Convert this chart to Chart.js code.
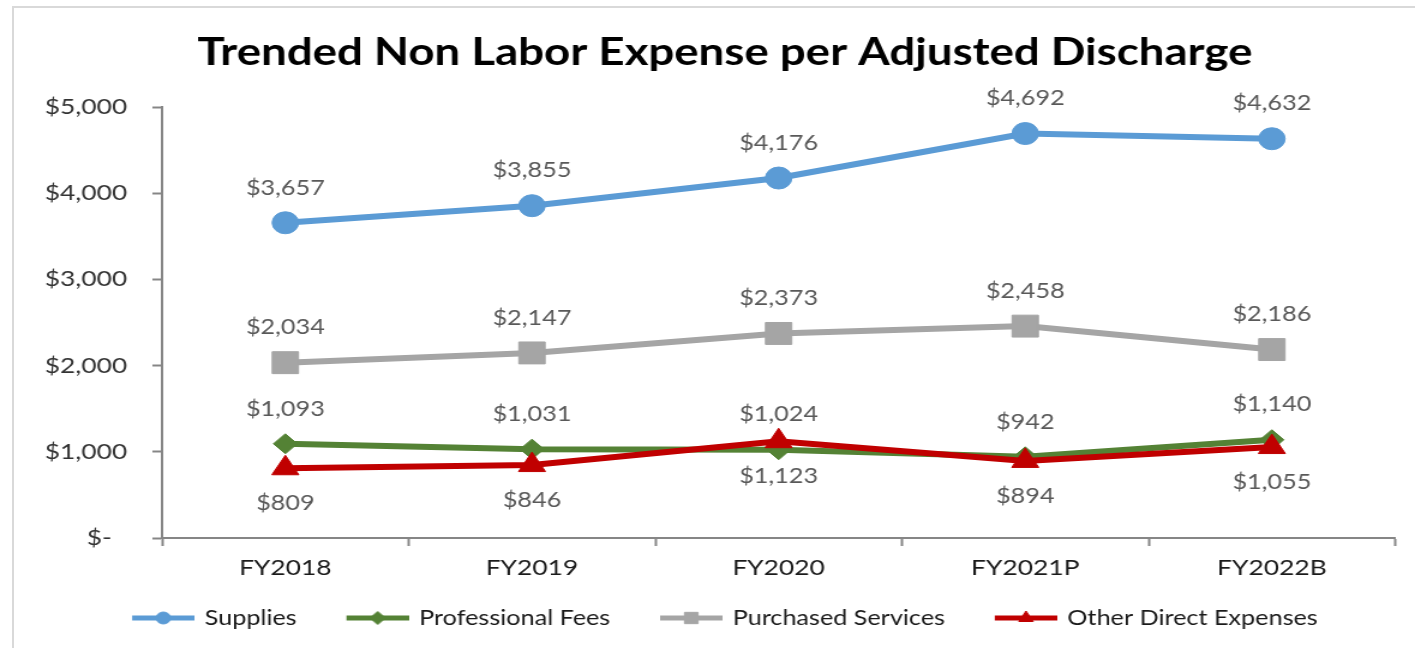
<!DOCTYPE html>
<html>
<head>
<meta charset="utf-8">
<title>Trended Non Labor Expense per Adjusted Discharge</title>
<script src="https://cdn.jsdelivr.net/npm/chart.js@4.4.0/dist/chart.umd.min.js"></script>
<style>
  html, body { margin: 0; padding: 0; background: #fff; overflow: hidden; }
  #frame {
    position: absolute; left: 12px; top: 6px;
    width: 1440px; height: 700px;
    border: 2px solid #d9d9d9;
  }
  #chart { position: absolute; left: 0; top: 0; }
</style>
</head>
<body>
<div id="frame"></div>
<!-- drawn at 1179 wide and stretched to 1415, the source picture is stretched the same way -->
<canvas id="chart" width="1179" height="648" style="width:1415px;height:648px"></canvas>
<script>
// chart data
const categories = ["FY2018", "FY2019", "FY2020", "FY2021P", "FY2022B"];
const supplies = [3657, 3855, 4176, 4692, 4632];
const professionalFees = [1093, 1031, 1024, 942, 1140];
const purchasedServices = [2034, 2147, 2373, 2458, 2186];
const otherDirectExpenses = [809, 846, 1123, 894, 1055];
const yTickLabels = ["$-", "$1,000", "$2,000", "$3,000", "$4,000", "$5,000"];

const FONT = "Lato";

function money(v) {
  return "$" + v.toLocaleString("en-US");
}

// small line + marker sample for the legend, like Excel draws it
// (left part of the canvas is left blank, it gives the gap between items)
function legendSwatch(color, pointStyle, radius) {
  const c = document.createElement("canvas");
  c.width = 72;
  c.height = 16;
  const ctx = c.getContext("2d");
  ctx.strokeStyle = color;
  ctx.lineWidth = 5;
  ctx.beginPath();
  ctx.moveTo(20, 8);
  ctx.lineTo(72, 8);
  ctx.stroke();
  ctx.fillStyle = color;
  ctx.lineWidth = 1;
  Chart.helpers.drawPoint(ctx, { pointStyle: pointStyle, radius: radius, rotation: 0, borderWidth: 1 }, 46, 8);
  return c;
}

// value labels above (or below) each point
const valueLabels = {
  id: "valueLabels",
  afterLayout(chart) {
    // the blank part of the swatches pushes the legend right, pull it back
    chart.legend.left -= 9;
    chart.legend.right -= 9;
  },
  afterDatasetsDraw(chart) {
    const ctx = chart.ctx;
    ctx.save();
    ctx.font = "21px " + FONT;
    ctx.fillStyle = "#595959";
    ctx.textAlign = "center";
    ctx.textBaseline = "middle";
    chart.data.datasets.forEach((ds, i) => {
      const meta = chart.getDatasetMeta(i);
      const dy = ds.labelBelow ? 35 : -35;
      meta.data.forEach((pt, j) => {
        ctx.fillText(money(ds.data[j]), pt.x, pt.y + dy);
      });
    });
    ctx.restore();
  }
};

function series(label, data, color, pointStyle, radius, legendRadius, order, labelBelow) {
  return {
    label: label,
    data: data,
    borderColor: color,
    backgroundColor: color,
    pointBackgroundColor: color,
    pointBorderColor: color,
    borderWidth: 6,
    pointStyle: pointStyle,
    pointRadius: radius,
    pointHoverRadius: radius,
    pointBorderWidth: 1,
    tension: 0,
    fill: false,
    order: order,
    labelBelow: labelBelow,
    legendRadius: legendRadius
  };
}

function draw() {
  const ctx = document.getElementById("chart").getContext("2d");
  new Chart(ctx, {
    type: "line",
    data: {
      labels: categories,
      datasets: [
        series("Supplies", supplies, "#5B9BD5", "circle", 11, 6, 1, false),
        series("Professional Fees", professionalFees, "#548235", "rectRot", 10, 6.5, 2, false),
        series("Purchased Services", purchasedServices, "#A5A5A5", "rect", 15.5, 8, 3, false),
        series("Other Direct Expenses", otherDirectExpenses, "#C00000", "triangle", 13, 7, 0, true)
      ]
    },
    options: {
      responsive: false,
      animation: false,
      events: [],
      layout: { padding: { left: 37, right: 8, top: 0, bottom: 9.5 } },
      plugins: {
        title: {
          display: true,
          text: "Trended Non Labor Expense per Adjusted Discharge",
          color: "#000",
          font: { family: FONT, size: 38, weight: "bold", lineHeight: 1.2 },
          padding: { top: 29.5, bottom: 31.9 }
        },
        legend: {
          position: "bottom",
          labels: {
            usePointStyle: true,
            pointStyleWidth: 68,
            padding: 23.5,
            color: "#1a1a1a",
            font: { family: FONT, size: 21 },
            generateLabels: chart => chart.data.datasets.map((ds, i) => ({
              text: ds.label,
              pointStyle: legendSwatch(ds.borderColor, ds.pointStyle, ds.legendRadius),
              fillStyle: ds.borderColor,
              strokeStyle: ds.borderColor,
              lineWidth: 0,
              hidden: false,
              datasetIndex: i,
              fontColor: "#1a1a1a"
            }))
          }
        },
        tooltip: { enabled: false }
      },
      scales: {
        x: {
          offset: true,
          grid: { display: true, offset: true, drawOnChartArea: false, drawTicks: true, tickLength: 8, tickColor: "#868686", tickWidth: 2 },
          border: { display: true, color: "#868686", width: 2 },
          ticks: { color: "#1a1a1a", padding: 9, font: { family: FONT, size: 22 } },
          afterFit: scale => { scale.height = 46; }
        },
        y: {
          min: 0,
          max: 5000,
          grid: { display: true, drawOnChartArea: false, drawTicks: true, tickLength: 8, tickColor: "#868686", tickWidth: 2 },
          border: { display: true, color: "#868686", width: 2 },
          ticks: {
            stepSize: 1000,
            padding: 21,
            color: "#333",
            font: { family: FONT, size: 22 },
            callback: (v, i) => (i === 0 ? yTickLabels[i] + "\u2007" : yTickLabels[i])
          },
          afterFit: scale => { scale.width = 98; }
        }
      }
    },
    plugins: [valueLabels]
  });
}

document.fonts.load("21px " + FONT).then(() => document.fonts.load("bold 38px " + FONT)).then(draw, draw);
</script>
</body>
</html>
